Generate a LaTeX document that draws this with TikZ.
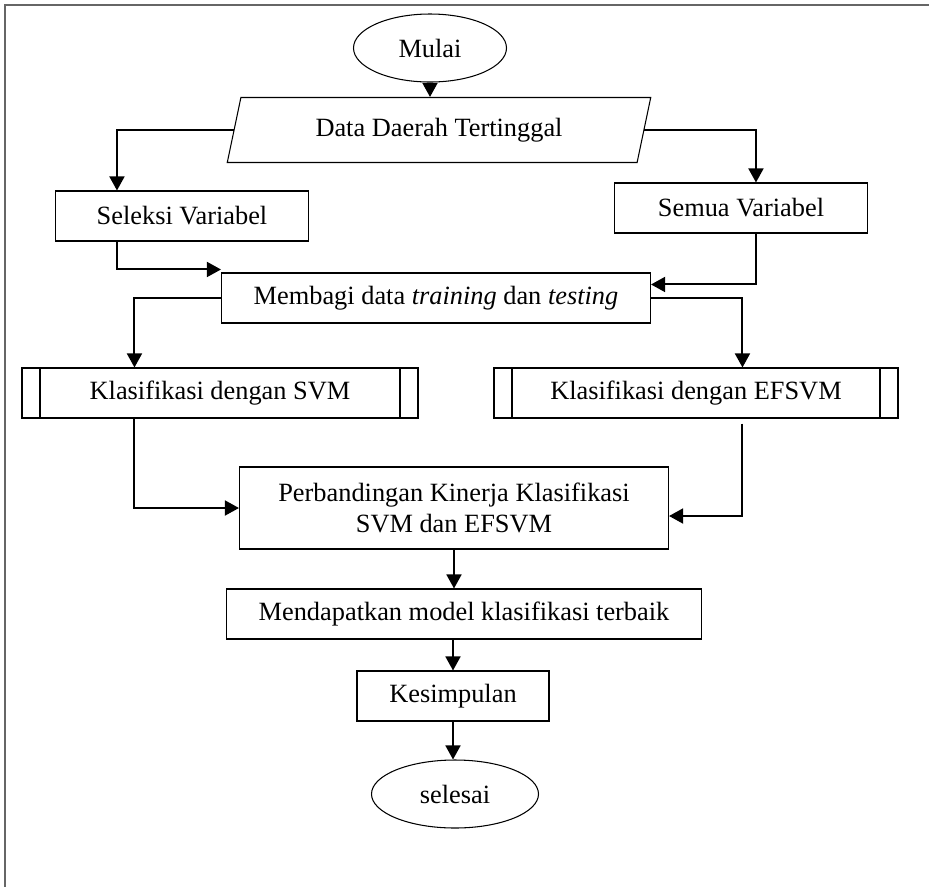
\documentclass[tikz,border=0pt]{standalone}
\usepackage{fontspec}
\setmainfont{Liberation Serif}
\usetikzlibrary{shapes.geometric, arrows.meta}
\tikzstyle{startstop} = [ellipse, 
minimum width=3.06cm, 
minimum height=1.36cm, 
text centered, 
line width=0.6pt, 
draw=black]
\tikzstyle{io} = [trapezium, 
trapezium left angle=76, 
trapezium right angle=104, 
trapezium stretches=true, 
minimum width=8.48cm, 
minimum height=1.3cm, 
text centered, 
line width=0.6pt, 
draw=black]
\tikzstyle{process} = [rectangle, 
minimum width=5.06cm, 
minimum height=1cm, 
text centered, 
line width=0.6pt, 
draw=black]
\tikzstyle{subprocess} = [process, 
path picture={
  \draw ([xshift=0.36cm]path picture bounding box.north west) -- ([xshift=0.36cm]path picture bounding box.south west);
  \draw ([xshift=-0.36cm]path picture bounding box.north east) -- ([xshift=-0.36cm]path picture bounding box.south east);
}]
\tikzstyle{arrow} = [line width=1.15pt, -{Triangle[length=8pt, width=8.5pt]}]

\begin{document}
\begin{tikzpicture}[font=\fontsize{15}{18}\selectfont]
  \useasboundingbox (0,0) rectangle (18.58,-17.74);
  \draw [black!60, line width=1pt] (18.58,-0.1) -- (0.1,-0.1) -- (0.1,-17.74);

  \node (mulai) [startstop] at (8.6,-0.96) {Mulai};
  \node (data) [io, node distance=1.64cm, below of=mulai, xshift=0.18cm] {Data Daerah Tertinggal};
  \node (seleksi) [process, node distance=5.14cm, left of=data, yshift=-1.72cm] {Seleksi Variabel};
  \node (semua) [process, node distance=6.04cm, right of=data, yshift=-1.56cm] {Semua Variabel};
  \node (membagi) [process, minimum width=8.58cm, node distance=3.36cm, below of=data, xshift=-0.06cm] {Membagi data \textit{training} dan \textit{testing}};
  \node (svm) [subprocess, minimum width=7.92cm, node distance=4.32cm, left of=membagi, yshift=-1.9cm] {Klasifikasi dengan SVM};
  \node (efsvm) [subprocess, minimum width=8.08cm, node distance=5.2cm, right of=membagi, yshift=-1.9cm] {Klasifikasi dengan EFSVM};
  \node (banding) [process, minimum width=8.58cm, minimum height=1.64cm, align=center, node distance=4.2cm, below of=membagi, xshift=0.36cm] {Perbandingan Kinerja Klasifikasi\\SVM dan EFSVM};
  \node (model) [process, minimum width=9.5cm, node distance=2.12cm, below of=banding, xshift=0.2cm] {Mendapatkan model klasifikasi terbaik};
  \node (simpul) [process, minimum width=3.84cm, node distance=1.64cm, below of=model, xshift=-0.22cm] {Kesimpulan};
  \node (selesai) [startstop, minimum width=3.34cm, node distance=1.96cm, below of=simpul, xshift=0.04cm] {selesai};

  \draw [arrow] (mulai.south) -- (mulai.south |- data.north);
  \draw [arrow] (data.west) -| ([xshift=1.24cm]seleksi.north west);
  \draw [arrow] (data.east) -| ([xshift=2.84cm]semua.north west);
  \draw [arrow] ([xshift=1.24cm]seleksi.south west) |- ([yshift=0.06cm]membagi.north west);
  \draw [arrow] ([xshift=2.84cm]semua.south west) |- ([yshift=-0.24cm]membagi.north east);
  \draw [arrow] (membagi.west) -| ([xshift=2.26cm]svm.north west);
  \draw [arrow] (membagi.east) -| ([xshift=4.98cm]efsvm.north west);
  \draw [arrow] ([xshift=2.26cm]svm.south west) |- (banding.west);
  \draw [arrow] ([xshift=4.98cm,yshift=-0.1cm]efsvm.south west) |- ([yshift=-0.16cm]banding.east);
  \draw [arrow] (banding.south) -- (banding.south |- model.north);
  \draw [arrow] (simpul.north |- model.south) -- (simpul.north);
  \draw [arrow] (simpul.south) -- (simpul.south |- selesai.north);

\end{tikzpicture}
\end{document}
